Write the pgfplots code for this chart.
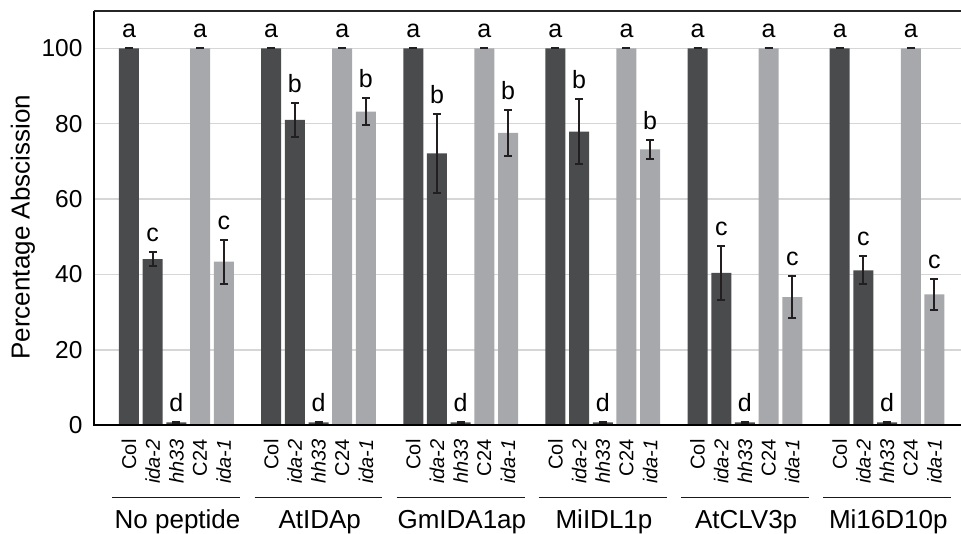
\documentclass[border=0pt]{standalone}
\usepackage{pgfplots}
\pgfplotsset{compat=1.18}
\usepackage{pgfplotstable}
\usepackage{fontspec}
\setmainfont{Liberation Sans}
\definecolor{darkbar}{HTML}{4A4B4D}
\definecolor{lightbar}{HTML}{A7A8AB}
\definecolor{gridc}{HTML}{D6D6D6}
\definecolor{errc}{HTML}{231F20}

\pgfplotstableread{
x y e l
0 100 0 a
1 44.1 1.9 c
2 0.8 0.2 d
6 100 0 a
7 81.0 4.6 b
8 0.8 0.2 d
12 100 0 a
13 72.1 10.5 b
14 0.8 0.2 d
18 100 0 a
19 77.9 8.7 b
20 0.8 0.2 d
24 100 0 a
25 40.4 7.1 c
26 0.8 0.2 d
30 100 0 a
31 41.1 3.7 c
32 0.8 0.2 d
}\darkdata

\pgfplotstableread{
x y e l
3 100 0 a
4 43.4 5.8 c
9 100 0 a
10 83.2 3.5 b
15 100 0 a
16 77.6 6.1 b
21 100 0 a
22 73.2 2.5 b
27 100 0 a
28 34.0 5.5 c
33 100 0 a
34 34.7 4.2 c
}\lightdata

\begin{document}
\begin{tikzpicture}
\path[use as bounding box] (-94pt,-108.7pt) rectangle (867pt,425.3pt);
\begin{axis}[
  at={(0pt,0pt)}, anchor=south west,
  scale only axis, width=867pt, height=414.3pt,
  xmin=-1.477, xmax=35.12, ymin=0, ymax=109.9,
  axis line style={draw=none},
  clip=false,
  ymajorgrids, grid style={gridc, line width=1.5pt},
  major tick length=0pt,
  ytick={0,20,40,60,80,100},
  /pgf/number format/assume math mode=true,
  yticklabel style={font=\fontsize{24.5}{28}\selectfont, xshift=-8pt},
  xtick={0,1,2,3,4,6,7,8,9,10,12,13,14,15,16,18,19,20,21,22,24,25,26,27,28,30,31,32,33,34},
  xticklabels={Col,\textit{ida-2},\textit{hh33},C24,\textit{ida-1},
               Col,\textit{ida-2},\textit{hh33},C24,\textit{ida-1},
               Col,\textit{ida-2},\textit{hh33},C24,\textit{ida-1},
               Col,\textit{ida-2},\textit{hh33},C24,\textit{ida-1},
               Col,\textit{ida-2},\textit{hh33},C24,\textit{ida-1},
               Col,\textit{ida-2},\textit{hh33},C24,\textit{ida-1}},
  xticklabel style={rotate=90, anchor=east, font=\fontsize{20}{24}\selectfont, inner sep=0pt},
  xticklabel shift=14pt,
  ylabel={Percentage Abscission},
  ylabel style={at={(axis description cs:-0.0819,0.478)}, anchor=center, font=\fontsize{26}{30}\selectfont},
]
\addplot[ybar, bar width=0.844, bar shift=0pt, fill=darkbar, draw=none,
  error bars/.cd, y dir=both, y explicit,
  error bar style={line width=2pt, errc},
  error mark options={rotate=90, line width=2pt, mark size=4pt, errc}]
  table[x=x, y=y, y error=e] {\darkdata};
\addplot[ybar, bar width=0.844, bar shift=0pt, fill=lightbar, draw=none,
  error bars/.cd, y dir=both, y explicit,
  error bar style={line width=2pt, errc},
  error mark options={rotate=90, line width=2pt, mark size=4pt, errc}]
  table[x=x, y=y, y error=e] {\lightdata};
\addplot[draw=none, mark=none, nodes near coords, point meta=explicit symbolic,
  every node near coord/.style={anchor=base, yshift=10.5pt, font=\fontsize{25}{28}\selectfont, text=black}]
  table[x=x, y expr=\thisrow{y}+\thisrow{e}, meta=l] {\darkdata};
\addplot[draw=none, mark=none, nodes near coords, point meta=explicit symbolic,
  every node near coord/.style={anchor=base, yshift=10.5pt, font=\fontsize{25}{28}\selectfont, text=black}]
  table[x=x, y expr=\thisrow{y}+\thisrow{e}, meta=l] {\lightdata};
% frame
\draw[line width=2pt, black] (rel axis cs:0,1) -- (rel axis cs:0,0) -- (rel axis cs:1,0);
\draw[line width=1.5pt, black!85] (rel axis cs:0,1) -- (rel axis cs:1,1);
% group lines and labels
\pgfplotsinvokeforeach{0,1,2,3,4,5}{
  \draw[line width=1.6pt, black!90] ([yshift=-72.4pt]axis cs:{6*#1-0.7},0) -- ([yshift=-72.4pt]axis cs:{6*#1+4.7},0);
}
\tikzset{grp/.style={anchor=base, font=\fontsize{26}{30}\selectfont, inner sep=0pt}}
\node[grp] at ([yshift=-103pt]axis cs:2.05,0) {No peptide};
\node[grp] at ([yshift=-103pt]axis cs:8.05,0) {AtIDAp};
\node[grp] at ([yshift=-103pt]axis cs:14.05,0) {GmIDA1ap};
\node[grp] at ([yshift=-103pt]axis cs:20.05,0) {MiIDL1p};
\node[grp] at ([yshift=-103pt]axis cs:26.05,0) {AtCLV3p};
\node[grp] at ([yshift=-103pt]axis cs:32.05,0) {Mi16D10p};
\end{axis}
\end{tikzpicture}
\end{document}
